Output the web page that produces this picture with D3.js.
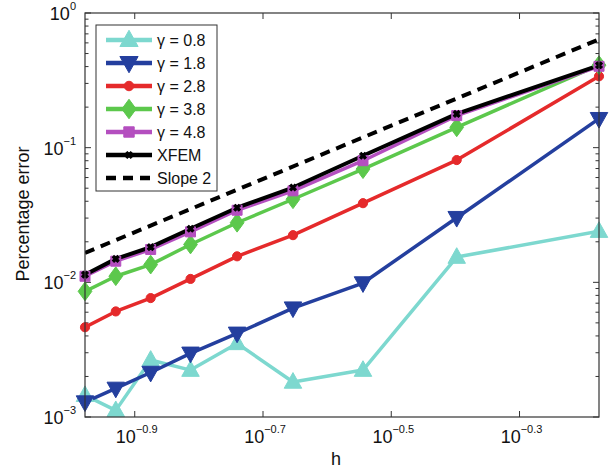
<!DOCTYPE html>
<html>
<head>
<meta charset="utf-8" />
<title>Percentage error vs h</title>
<script src="https://cdn.jsdelivr.net/npm/d3@7/dist/d3.min.js"></script>
<style>
body { margin: 0; background: #fff; }
svg { font-family: "Liberation Sans", Arial, sans-serif; }
</style>
</head>
<body>
<div id="chart"></div>
<script>
// mesh sizes h
const hValues = [0.1053, 0.1176, 0.1333, 0.1538, 0.1818, 0.2222, 0.2857, 0.4, 0.6667];

// percentage error per series
const gamma08 = [0.00145, 0.00112, 0.00265, 0.00223, 0.00352, 0.00182, 0.00223, 0.0154, 0.0240];
const gamma18 = [0.00129, 0.00163, 0.00214, 0.00297, 0.00418, 0.00643, 0.00988, 0.0302, 0.164];
const gamma28 = [0.00464, 0.00608, 0.00764, 0.0106, 0.0156, 0.0224, 0.0387, 0.0809, 0.339];
const gamma38 = [0.00857, 0.0111, 0.01355, 0.0191, 0.0277, 0.0414, 0.0693, 0.1417, 0.41];
const gamma48 = [0.01109, 0.01435, 0.01754, 0.0237, 0.0343, 0.0478, 0.080, 0.173, 0.402];
const xfem    = [0.0114, 0.01493, 0.01824, 0.0250, 0.0358, 0.0506, 0.0871, 0.178, 0.409];

// reference slope-2 line, end points
const slopeH = [0.1053, 0.6667];
const slopeE = [0.01655, 0.637];

const xTickExp = ["-0.9", "-0.7", "-0.5", "-0.3"];
const yTickExp = ["0", "-1", "-2", "-3"];

const series = [
  {name: "\u03b3 = 0.8", vals: gamma08, color: "#7dd8cf", marker: "tri-up"},
  {name: "\u03b3 = 1.8", vals: gamma18, color: "#243f9e", marker: "tri-down"},
  {name: "\u03b3 = 2.8", vals: gamma28, color: "#e52a2b", marker: "circle"},
  {name: "\u03b3 = 3.8", vals: gamma38, color: "#5cc84c", marker: "diamond"},
  {name: "\u03b3 = 4.8", vals: gamma48, color: "#b44fbf", marker: "square"},
  {name: "XFEM",         vals: xfem,    color: "#000000", marker: "star"}
];

const W = 609, H = 470;
const margin = {top: 13, right: 10, bottom: 53, left: 85};

const svg = d3.select("#chart").append("svg")
  .attr("width", W).attr("height", H);

const x = d3.scaleLog().domain([0.1053, 0.6667]).range([margin.left, W - margin.right]);
const y = d3.scaleLog().domain([1e-3, 1]).range([H - margin.bottom, margin.top]);

const x0 = margin.left, x1 = W - margin.right, y0 = H - margin.bottom, y1 = margin.top;

// ticks
const tk = svg.append("g").attr("stroke", "#333").attr("stroke-width", 1);
xTickExp.forEach(function(e) {
  const px = x(Math.pow(10, +e));
  tk.append("line").attr("x1", px).attr("x2", px).attr("y1", y0).attr("y2", y0 - 6);
  tk.append("line").attr("x1", px).attr("x2", px).attr("y1", y1).attr("y2", y1 + 6);
});
for (let k = -3; k <= 0; k++) {
  for (let m = 1; m <= 9; m++) {
    const v = m * Math.pow(10, k);
    if (v > 1) continue;
    const py = y(v), len = m === 1 ? 6 : 3.5;
    tk.append("line").attr("x1", x0).attr("x2", x0 + len).attr("y1", py).attr("y2", py);
    tk.append("line").attr("x1", x1).attr("x2", x1 - len).attr("y1", py).attr("y2", py);
  }
}

// tick labels
yTickExp.forEach(function(e) {
  const t = svg.append("text")
    .attr("x", 76).attr("y", y(Math.pow(10, +e)) + 7)
    .attr("text-anchor", "end").attr("font-size", 18).attr("fill", "#111");
  t.append("tspan").text("10");
  t.append("tspan").attr("dy", -10).attr("font-size", 11).text(e.replace("-", "\u2212"));
});
xTickExp.forEach(function(e) {
  const t = svg.append("text")
    .attr("x", x(Math.pow(10, +e)) + 2).attr("y", 443)
    .attr("text-anchor", "middle").attr("font-size", 18).attr("fill", "#111");
  t.append("tspan").text("10");
  t.append("tspan").attr("dy", -10).attr("font-size", 11).text(e.replace("-", "\u2212"));
});

svg.append("text").attr("x", (x0 + x1) / 2 - 6).attr("y", 465)
  .attr("text-anchor", "middle").attr("font-size", 18).attr("fill", "#111").text("h");
svg.append("text").attr("transform", "translate(29," + 214 + ") rotate(-90)")
  .attr("text-anchor", "middle").attr("font-size", 18).attr("fill", "#111").text("Percentage error");

// clip
svg.append("clipPath").attr("id", "clip").append("rect")
  .attr("x", x0).attr("y", y1).attr("width", x1 - x0).attr("height", y0 - y1);
const plot = svg.append("g").attr("clip-path", "url(#clip)");
const marks = svg.append("g");

function markerPath(type, size) {
  const s = size;
  switch (type) {
    case "tri-up": return "M0," + (-s * 0.75) + "L" + (s * 0.7) + "," + (s * 0.5) + "L" + (-s * 0.7) + "," + (s * 0.5) + "Z";
    case "tri-down": return "M0," + (s * 0.75) + "L" + (s * 0.7) + "," + (-s * 0.5) + "L" + (-s * 0.7) + "," + (-s * 0.5) + "Z";
    case "diamond": return "M0," + (-s * 0.75) + "L" + (s * 0.55) + ",0L0," + (s * 0.75) + "L" + (-s * 0.55) + ",0Z";
    case "square": return "M" + (-s * 0.4) + "," + (-s * 0.4) + "h" + (s * 0.8) + "v" + (s * 0.8) + "h" + (-s * 0.8) + "Z";
    case "circle": return d3.symbol(d3.symbolCircle, s * s * 0.42)();
    case "star": return d3.symbol(d3.symbolCross, s * s * 0.35)();
  }
}

const line = d3.line().x(d => x(d[0])).y(d => y(d[1]));

// slope line
plot.append("path")
  .attr("d", line(slopeH.map((h, i) => [h, slopeE[i]])))
  .attr("fill", "none").attr("stroke", "#000").attr("stroke-width", 4)
  .attr("stroke-dasharray", "10,7");

series.forEach(function(s) {
  const pts = hValues.map((h, i) => [h, s.vals[i]]);
  plot.append("path").attr("d", line(pts))
    .attr("fill", "none").attr("stroke", s.color)
    .attr("stroke-width", s.marker === "star" ? 4 : 3.5).attr("stroke-linejoin", "round");
  marks.selectAll(null).data(pts).enter().append("path")
    .attr("transform", d => "translate(" + x(d[0]) + "," + y(d[1]) + ")" + (s.marker === "star" ? " rotate(45)" : ""))
    .attr("d", markerPath(s.marker, s.marker === "star" ? 9 : 12.5))
    .attr("fill", s.color).attr("stroke", s.color).attr("stroke-width", 1);
});

// frame
svg.append("rect").attr("x", x0).attr("y", y1).attr("width", x1 - x0).attr("height", y0 - y1)
  .attr("fill", "none").attr("stroke", "#333").attr("stroke-width", 1.2);

// legend
const lg = svg.append("g");
lg.append("rect").attr("x", 96).attr("y", 25).attr("width", 121).attr("height", 166)
  .attr("fill", "#fff").attr("stroke", "#333").attr("stroke-width", 1);
const legendItems = series.concat([{name: "Slope 2", color: "#000", marker: null, dashed: true}]);
legendItems.forEach(function(s, i) {
  const ly = 40 + i * 23;
  lg.append("line").attr("x1", 106).attr("x2", 152).attr("y1", ly).attr("y2", ly)
    .attr("stroke", s.color).attr("stroke-width", 4.5)
    .attr("stroke-dasharray", s.dashed ? "10,7" : null);
  if (s.marker) {
    lg.append("path")
      .attr("transform", "translate(129," + ly + ")" + (s.marker === "star" ? " rotate(45)" : ""))
      .attr("d", markerPath(s.marker, s.marker === "star" ? 9 : 13))
      .attr("fill", s.color).attr("stroke", s.color);
  }
  lg.append("text").attr("x", 157).attr("y", ly + 6).attr("font-size", 16).attr("fill", "#111").text(s.name);
});
</script>
</body>
</html>
